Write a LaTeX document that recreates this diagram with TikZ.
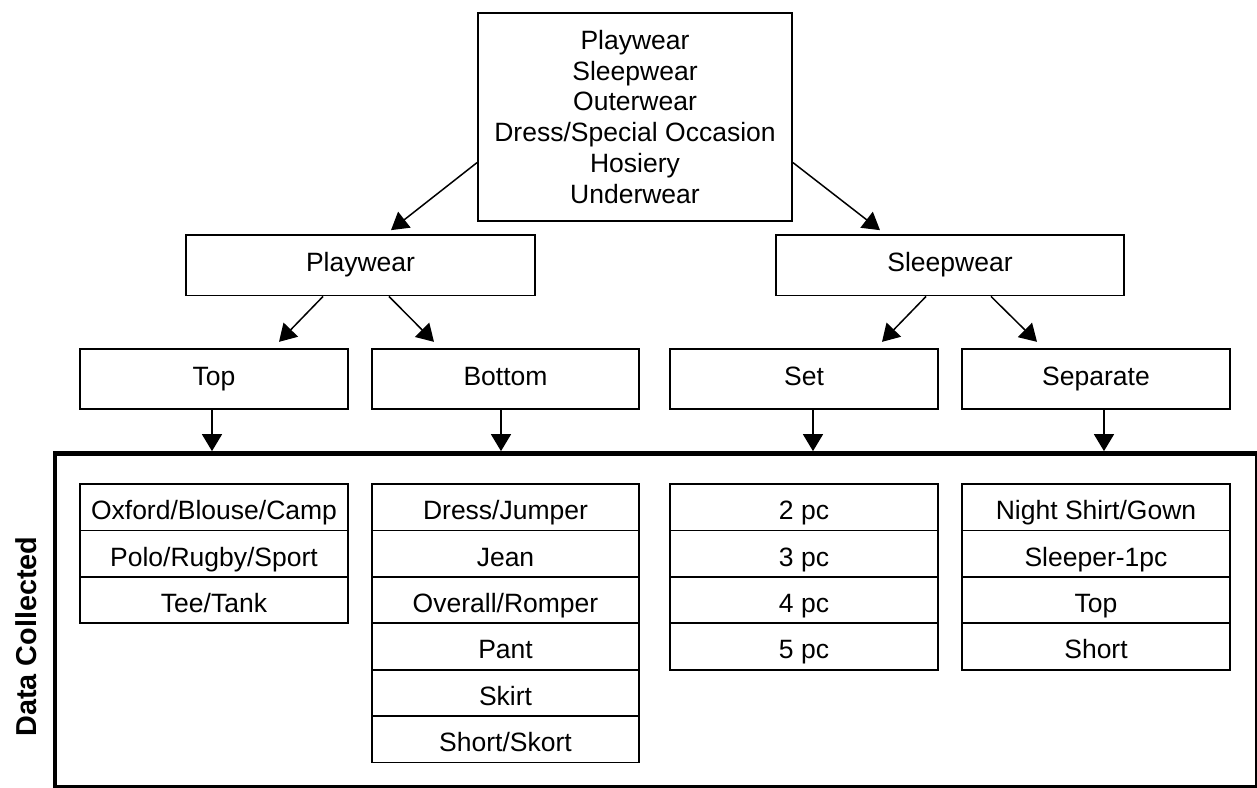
\documentclass[tikz,border=0pt]{standalone}
\usepackage{fontspec}
\setmainfont{Liberation Sans}
\usetikzlibrary{arrows.meta,calc}
\begin{document}
\begin{tikzpicture}[x=1pt,y=-1pt,
  every node/.style={inner sep=0pt},
  lvl/.style={draw, line width=1.8pt, rectangle, minimum height=60.5pt,
    font=\fontsize{26.5pt}{30.7pt}\selectfont, text height=19pt, text depth=6pt},
  row/.style={draw, line width=1.8pt, rectangle, minimum height=46.4pt,
    font=\fontsize{26.5pt}{30.7pt}\selectfont, text height=25pt, text depth=0pt},
  headbox/.style={draw, line width=1.8pt, rectangle, align=center,
    font=\fontsize{26.5pt}{30.7pt}\selectfont},
  frm/.style={draw, line width=4.7pt, rectangle},
  arr/.style={line width=1.5pt, -{Triangle[length=17pt,width=20pt]}},
  side/.style={rotate=90, font=\bfseries\fontsize{28.8pt}{32pt}\selectfont,
    text height=20.6pt, text depth=0pt}
]
\useasboundingbox (0,0) rectangle (1257,787);

% root
\node[headbox, minimum width=314pt, minimum height=208.3pt] (root) at (635,116.8)
  {Playwear\\Sleepwear\\Outerwear\\Dress/Special Occasion\\Hosiery\\Underwear};

% level 2
\node[lvl, minimum width=349pt] (pw) at (360.5,265.3) {Playwear};
\node[lvl, minimum width=348pt] (sw) at (950,265.3) {Sleepwear};

% level 3
\node[lvl, minimum width=268pt] (ttop) at (214,379) {Top};
\node[lvl, minimum width=267pt] (tbot) at (505.5,379) {Bottom};
\node[lvl, minimum width=268pt] (tset) at (804,379) {Set};
\node[lvl, minimum width=268pt] (tsep) at (1096,379) {Separate};

% frame
\node[frm, minimum width=1202pt, minimum height=333.5pt] (frame) at (656,620.25) {};
\node[side] (dc) at (26,636.7) {Data Collected};

% lists
\node[row, minimum width=268pt] (a1) at (214,507.2) {Oxford/Blouse/Camp};
\node[row, minimum width=268pt] (a2) at (214,553.6) {Polo/Rugby/Sport};
\node[row, minimum width=268pt] (a3) at (214,600.0) {Tee/Tank};

\node[row, minimum width=267pt] (b1) at (505.5,507.2) {Dress/Jumper};
\node[row, minimum width=267pt] (b2) at (505.5,553.6) {Jean};
\node[row, minimum width=267pt] (b3) at (505.5,600.0) {Overall/Romper};
\node[row, minimum width=267pt] (b4) at (505.5,646.4) {Pant};
\node[row, minimum width=267pt] (b5) at (505.5,692.8) {Skirt};
\node[row, minimum width=267pt] (b6) at (505.5,739.2) {Short/Skort};

\node[row, minimum width=268pt] (c1) at (804,507.2) {2 pc};
\node[row, minimum width=268pt] (c2) at (804,553.6) {3 pc};
\node[row, minimum width=268pt] (c3) at (804,600.0) {4 pc};
\node[row, minimum width=268pt] (c4) at (804,646.4) {5 pc};

\node[row, minimum width=268pt] (d1) at (1096,507.2) {Night Shirt/Gown};
\node[row, minimum width=268pt] (d2) at (1096,553.6) {Sleeper-1pc};
\node[row, minimum width=268pt] (d3) at (1096,600.0) {Top};
\node[row, minimum width=268pt] (d4) at (1096,646.4) {Short};

% connectors
\draw[arr] ($(root.north west)+(0,150.8)$) -- ($(pw.north)+(30.5,-4)$);
\draw[arr] ($(root.north east)+(0,150.8)$) -- ($(sw.north)+(-70,-4)$);

\draw[arr] ($(pw.south)+(-37.5,0)$) -- ($(ttop.north)+(65,-6)$);
\draw[arr] ($(pw.south)+(28.5,0)$) -- ($(tbot.north)+(-71.5,-6)$);
\draw[arr] ($(sw.south)+(-24,0)$) -- ($(tset.north)+(78,-6)$);
\draw[arr] ($(sw.south)+(41,0)$) -- ($(tsep.north)+(-59,-6)$);

\coordinate (v1) at ($(ttop.south)+(-2,0)$);
\coordinate (v2) at ($(tbot.south)+(-4.5,0)$);
\coordinate (v3) at ($(tset.south)+(9,0)$);
\coordinate (v4) at ($(tsep.south)+(8,0)$);
\draw[arr] (v1) -- (v1 |- frame.north);
\draw[arr] (v2) -- (v2 |- frame.north);
\draw[arr] (v3) -- (v3 |- frame.north);
\draw[arr] (v4) -- (v4 |- frame.north);
\end{tikzpicture}
\end{document}
